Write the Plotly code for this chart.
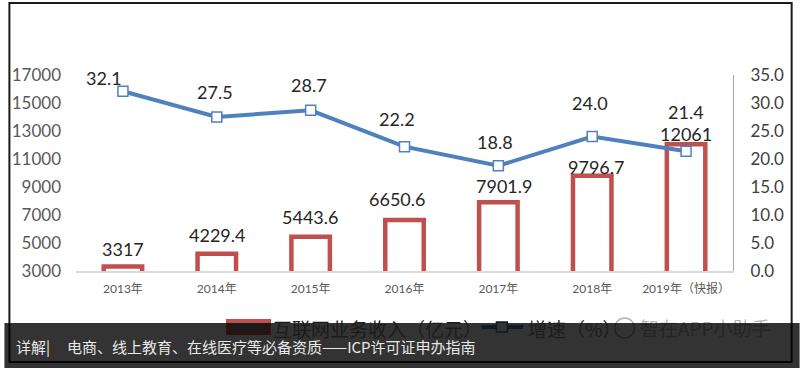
import plotly.graph_objects as go

# ---- data ----
years = ["2013年", "2014年", "2015年", "2016年", "2017年", "2018年", "2019年（快报）"]
revenue = [3317, 4229.4, 5443.6, 6650.6, 7901.9, 9796.7, 12061]
revenue_labels = ["3317", "4229.4", "5443.6", "6650.6", "7901.9", "9796.7", "12061"]
growth = [32.1, 27.5, 28.7, 22.2, 18.8, 24.0, 21.4]
growth_labels = ["32.1", "27.5", "28.7", "22.2", "18.8", "24.0", "21.4"]
left_ticks = [3000, 5000, 7000, 9000, 11000, 13000, 15000, 17000]
left_tick_text = ["3000", "5000", "7000", "9000", "11000", "13000", "15000", "17000"]
right_ticks = [0, 5, 10, 15, 20, 25, 30, 35]
right_tick_text = ["0.0", "5.0", "10.0", "15.0", "20.0", "25.0", "30.0", "35.0"]
legend_bar = "互联网业务收入（亿元）"
legend_line = "增速（%）"
footer_tag = "详解|"
footer_text = "电商、线上教育、在线医疗等必备资质——ICP许可证申办指南"
watermark = "智在APP小助手"

# ---- style (label offsets in pixels) ----
RED = "#C0504D"
BLUE = "#4F81BD"
FONT = "Lato, Noto Sans CJK SC, sans-serif"
bar_label_dx = [0, 0, -1, -8, 6, 4, 0]
bar_label_dy = [18, 19, 20, 21, 16, 9, 10]
line_label_dx = [-19, -2, -2, -8, -3, -2, 0]
line_label_dy = [13, 25, 25, 28, 24, 34, 39]

L, R, T, B = 72, 67, 75, 97
W, H = 800, 368
PW, PH = W - L - R, H - T - B


def px(x):
    return (x - L) / PW


def py(y):
    return (H - B - y) / PH


fig = go.Figure()
fig.add_trace(go.Bar(
    x=years, y=revenue, width=0.41,
    marker=dict(color="white", line=dict(color=RED, width=4.5)),
    showlegend=False, hoverinfo="skip", cliponaxis=True,
))
fig.add_trace(go.Scatter(
    x=years, y=growth, yaxis="y2", mode="lines+markers",
    line=dict(color=BLUE, width=4),
    marker=dict(symbol="square", size=10, color="white", line=dict(color=BLUE, width=1.5)),
    showlegend=False, hoverinfo="skip",
))

annotations = []
for i, (yv, t) in enumerate(zip(revenue, revenue_labels)):
    annotations.append(dict(x=years[i], y=yv, xref="x", yref="y", text=t, showarrow=False,
                            yanchor="middle", xshift=bar_label_dx[i], yshift=bar_label_dy[i],
                            font=dict(family=FONT, size=18, color="#262626")))
for i, (yv, t) in enumerate(zip(growth, growth_labels)):
    annotations.append(dict(x=years[i], y=yv, xref="x", yref="y2", text=t, showarrow=False,
                            yanchor="middle", xshift=line_label_dx[i], yshift=line_label_dy[i],
                            font=dict(family=FONT, size=18, color="#262626")))

# legend (drawn manually, mostly hidden under the footer band)
annotations.append(dict(x=px(268), y=py(328), xref="paper", yref="paper", text=legend_bar,
                        showarrow=False, xanchor="left", yanchor="middle",
                        font=dict(family="Noto Sans CJK SC", size=19, color="#1c1c1c")))
annotations.append(dict(x=px(525), y=py(328), xref="paper", yref="paper", text=legend_line,
                        showarrow=False, xanchor="left", yanchor="middle",
                        font=dict(family="Noto Sans CJK SC", size=19, color="#1c1c1c")))
annotations.append(dict(x=px(637), y=py(327), xref="paper", yref="paper", text=watermark,
                        showarrow=False, xanchor="left", yanchor="middle",
                        font=dict(family="Noto Sans CJK SC", size=19, color="rgba(0,0,0,0.3)")))
# footer text
annotations.append(dict(x=px(10), y=py(346), xref="paper", yref="paper", text=footer_tag,
                        showarrow=False, xanchor="left", yanchor="middle",
                        font=dict(family="Noto Sans CJK SC", size=15, color="#e8e8e8")))
annotations.append(dict(x=px(61), y=py(346), xref="paper", yref="paper", text=footer_text,
                        showarrow=False, xanchor="left", yanchor="middle",
                        font=dict(family="Noto Sans CJK SC", size=15, color="#e8e8e8")))

shapes = [
    # outer frame
    dict(type="rect", xref="paper", yref="paper", x0=px(5), x1=px(792), y0=py(362), y1=py(3),
         line=dict(color="#1a1a1a", width=2), layer="above"),
    # footer overlay
    dict(type="rect", xref="paper", yref="paper", x0=px(0), x1=px(800), y0=py(368), y1=py(323),
         line=dict(width=0), fillcolor="rgba(0,0,0,0.8)", layer="above"),
    # legend bar symbol (dimmed by the band, red edge above it)
    dict(type="rect", xref="paper", yref="paper", x0=px(225), x1=px(266), y0=py(333), y1=py(321),
         line=dict(color="#2a1212", width=4), fillcolor="#1a1a1a", layer="above"),
    dict(type="line", xref="paper", yref="paper", x0=px(223), x1=px(268), y0=py(321), y1=py(321),
         line=dict(color=RED, width=4), layer="above"),
    # legend line symbol (dimmed)
    dict(type="line", xref="paper", yref="paper", x0=px(480), x1=px(522), y0=py(327), y1=py(327),
         line=dict(color="#151a22", width=4), layer="above"),
    dict(type="rect", xref="paper", yref="paper", x0=px(495), x1=px(506), y0=py(332), y1=py(322),
         line=dict(color="#151a22", width=1.5), fillcolor="#333333", layer="above"),
    # watermark logo
    dict(type="circle", xref="paper", yref="paper", x0=px(614), x1=px(634), y0=py(338), y1=py(318),
         line=dict(color="rgba(0,0,0,0.3)", width=1.5), layer="above"),
]

fig.update_layout(
    width=W, height=H,
    margin=dict(l=L, r=R, t=T, b=B, pad=0),
    paper_bgcolor="white", plot_bgcolor="white",
    font=dict(family=FONT),
    bargap=0.5,
    xaxis=dict(type="category", range=[-0.5, 6.5], showgrid=False, showline=True,
               linecolor="#d9d9d9", linewidth=1.5, ticks="", ticklabelstandoff=6,
               tickfont=dict(family=FONT, size=12, color="#595959"), fixedrange=True),
    yaxis=dict(range=[3000, 17000], tickvals=left_ticks, ticktext=left_tick_text,
               showgrid=False, zeroline=False,
               showline=False, ticks="", ticklabelstandoff=14,
               tickfont=dict(family=FONT, size=17, color="#595959")),
    yaxis2=dict(range=[0, 35], tickvals=right_ticks, ticktext=right_tick_text, overlaying="y",
                side="right", showgrid=False, zeroline=False, showline=True,
                linecolor="#a6a6a6", linewidth=1, ticks="", ticklabelstandoff=13,
                tickfont=dict(family=FONT, size=17, color="#404040")),
    annotations=annotations,
    shapes=shapes,
)

fig.write_html("out.html", config={"displayModeBar": False},
               post_script="document.body.style.margin='0px';")
